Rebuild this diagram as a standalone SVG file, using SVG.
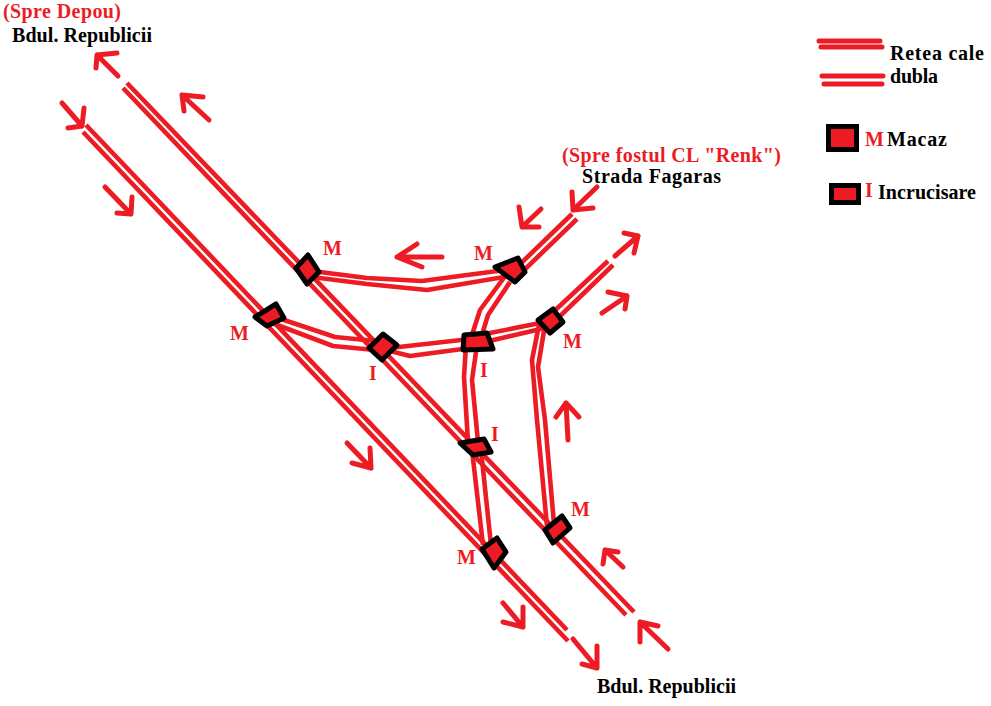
<svg xmlns="http://www.w3.org/2000/svg" width="991" height="706" viewBox="0 0 991 706">
<style>
.r{fill:none;stroke:#ED1C24;stroke-width:4.6;stroke-linejoin:round;stroke-linecap:butt}
.a{fill:none;stroke:#ED1C24;stroke-width:5;stroke-linejoin:round;stroke-linecap:round}
.l{fill:none;stroke:#ED1C24;stroke-width:5;stroke-linecap:round}
.n{fill:#ED1C24;stroke:#000;stroke-width:5;stroke-linejoin:round}
.t{font-family:"Liberation Serif","Times New Roman",serif;font-weight:bold;font-size:20px;fill:#000}
.m{fill:#ED1C24}
</style>
<rect width="991" height="706" fill="#fff"/>
<g id="connectors">
<path class="r" d="M127 83L634 612M123 88L626 615"/>
<path class="r" d="M86 125L567 630M83 132L568 641"/>
<path class="r" d="M312 271L367 278L422 281L505 270M312 277L367 284L427 290L510 276"/>
<path class="r" d="M275 317L335 337L375 341M272 323L333 346L375 350"/>
<path class="r" d="M390 348L470 339M390 351L410 356L470 348"/>
<path class="r" d="M485 334L545 322M485 342L545 328"/>
<path class="r" d="M550 315L608 261M556 320L613 265"/>
<path class="r" d="M515 269L572 214M520 274L577 219"/>
<path class="r" d="M506 275L480 310L471 338M510 282L488 315L481 338"/>
<path class="r" d="M466 345L464 377L468 442M477 345L472 380L478 442"/>
<path class="r" d="M472 450L483 545M481 450L491 545"/>
<path class="r" d="M539 325L532 360L537 420L547 526M545 325L538 367L545 420L554 524"/>
<g id="arrows">
<path class="a" d="M118 76L97 55M96 68L97 55L117 53"/>
<path class="a" d="M209 120L182 95M184 111L182 95L203 97"/>
<path class="a" d="M62 103L82 126M84 108L82 126L68 128"/>
<path class="a" d="M105 187L131 214M132 197L131 214L117 213"/>
<path class="a" d="M442 257L397 257M417 244L397 257L422 267"/>
<path class="a" d="M541 209L522 227M519 207L522 227L539 227"/>
<path class="a" d="M597 187L573 210M572 192L573 210L593 208"/>
<path class="a" d="M615 256L638 236M624 233L638 236L634 253"/>
<path class="a" d="M602 313L627 296M608 292L627 296L625 309"/>
<path class="a" d="M568 440L566 403M556 417L566 403L579 417"/>
<path class="a" d="M347 443L371 468M370 448L371 468L352 463"/>
<path class="a" d="M503 603L523 627M523 607L523 627L503 622"/>
<path class="a" d="M573 639L597 668M597 646L597 668L582 664"/>
<path class="a" d="M623 567L605 550M603 564L605 550L618 552"/>
<path class="a" d="M668 649L640 622M640 642L640 622L658 626"/>
</g>
</g>
<g id="node-m1"><polygon class="n" points="308,255 319,272 307,284 296,268"/><text class="t m" x="323" y="255">M</text></g>
<g id="node-m2"><polygon class="n" points="495,267 518,258 525,272 515,282"/><text class="t m" x="474" y="260">M</text></g>
<g id="node-m3"><polygon class="n" points="255,317 276,304 284,318 267,326"/><text class="t m" x="230" y="340">M</text></g>
<g id="node-i1"><polygon class="n" points="369,348 383,334 397,345 382,360"/><text class="t m" x="369" y="380">I</text></g>
<g id="node-i2"><polygon class="n" points="464,335 487,333 493,349 463,350"/><text class="t m" x="480" y="377">I</text></g>
<g id="node-m4"><polygon class="n" points="538,320 553,309 563,322 550,333"/><text class="t m" x="563" y="348">M</text></g>
<g id="node-i3"><polygon class="n" points="460,443 484,439 491,452 473,455"/><text class="t m" x="491" y="441">I</text></g>
<g id="node-m5"><polygon class="n" points="545,530 562,516 570,528 553,543"/><text class="t m" x="571" y="516">M</text></g>
<g id="node-m6"><polygon class="n" points="482,549 497,538 506,552 494,568"/><text class="t m" x="457" y="564">M</text></g>
<g id="labels">
<text class="t m" x="3" y="18" textLength="118">(Spre Depou)</text>
<text class="t" x="12" y="42" textLength="140">Bdul. Republicii</text>
<text class="t m" x="562" y="162" textLength="219">(Spre fostul CL "Renk")</text>
<text class="t" x="582" y="183" textLength="139">Strada Fagaras</text>
<text class="t" x="597" y="693" textLength="139">Bdul. Republicii</text>
</g>
<g id="legend">
<path class="l" d="M819 41H880M821 47H882M822 76H883M824 84H882"/>
<text class="t" x="890" y="60" textLength="94">Retea cale</text>
<text class="t" x="890" y="83" textLength="48">dubla</text>
<rect x="828.5" y="126.5" width="28" height="23" fill="#ED1C24" stroke="#000" stroke-width="5"/>
<text class="t m" x="865" y="146">M</text>
<text class="t" x="887" y="146" textLength="60">Macaz</text>
<rect x="831.5" y="185.5" width="27" height="17" fill="#ED1C24" stroke="#000" stroke-width="5"/>
<text class="t m" x="865" y="197">I</text>
<text class="t" x="878" y="199" textLength="98">Incrucisare</text>
</g>
</svg>
